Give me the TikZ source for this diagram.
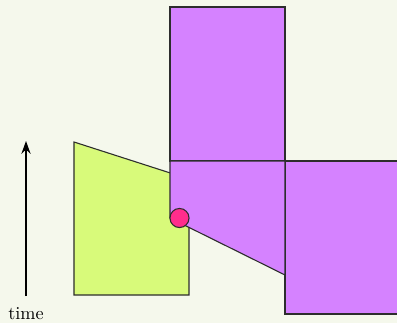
\documentclass[tikz,border=0pt]{standalone}
\usepackage{xcolor}
\usepackage{tikz}
\usetikzlibrary{positioning,arrows.meta}
\definecolor{fond}{RGB}{245,248,236}
\definecolor{vert}{RGB}{216,250,122}
\definecolor{violet}{RGB}{213,130,255}
\definecolor{rose}{RGB}{255,45,140}
\definecolor{trait}{RGB}{45,45,45}

\begin{document}
\begin{tikzpicture}[x=0.55pt, y=-0.55pt,
  bloc/.style={fill=#1, draw=trait, line width=0.6pt, line join=miter},
  point/.style={circle, fill=rose, draw=trait, line width=0.6pt, minimum size=10.5pt, inner sep=0pt}]

% ── fond ──
\fill[fond] (0,0) rectangle (397,323);
\useasboundingbox (0,0) rectangle (397,323);

% ── le trapèze vert ──
\filldraw[bloc=vert] (74,142) -- (189,179) -- (189,295) -- (74,295) -- cycle;

% ── les blocs violets ──
\filldraw[bloc=violet] (170,7) rectangle (285,161);
\filldraw[bloc=violet] (285,161) rectangle (398,314);
\filldraw[bloc=violet] (170,161) -- (285,161) -- (285,275) -- (170,218) -- cycle;

% ── le point ──
\node[point] (p) at (179.5,218) {};

% ── l'axe du temps ──
\coordinate (t0) at (26,296);
\coordinate (t1) at (26,141);
\draw[-{Stealth[length=7pt,width=5pt]}, line width=1.1pt] (t0) -- (t1);
\node[font=\normalsize] (time) at (26,314) {time};

\end{tikzpicture}
\end{document}
